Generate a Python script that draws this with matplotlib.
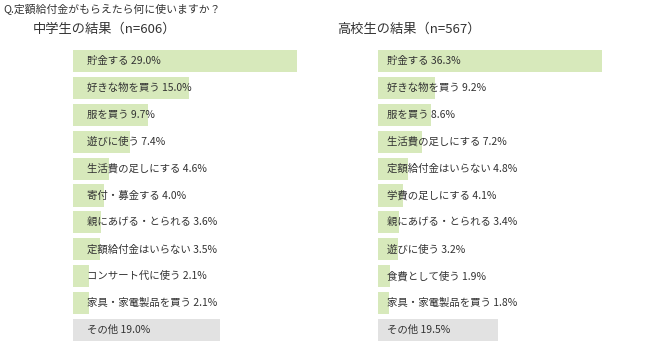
import matplotlib
matplotlib.use("Agg")
import matplotlib.pyplot as plt

plt.rcParams['font.family'] = ['Noto Sans CJK JP', 'DejaVu Sans']

# data
jhs_labels = ["貯金する", "好きな物を買う", "服を買う", "遊びに使う", "生活費の足しにする",
              "寄付・募金する", "親にあげる・とられる", "定額給付金はいらない",
              "コンサート代に使う", "家具・家電製品を買う", "その他"]
jhs_values = [29.0, 15.0, 9.7, 7.4, 4.6, 4.0, 3.6, 3.5, 2.1, 2.1, 19.0]

hs_labels = ["貯金する", "好きな物を買う", "服を買う", "生活費の足しにする",
             "定額給付金はいらない", "学費の足しにする", "親にあげる・とられる",
             "遊びに使う", "食費として使う", "家具・家電製品を買う", "その他"]
hs_values = [36.3, 9.2, 8.6, 7.2, 4.8, 4.1, 3.4, 3.2, 1.9, 1.8, 19.5]

W, H = 650, 349
fig = plt.figure(figsize=(W / 100, H / 100), dpi=100)

GREEN = "#d7e9bb"
GRAY = "#e2e2e2"
TXT = "#333333"


def panel(x0, labels, values, pad, title, tx):
    # axes in pixel coords: bars from x0, 224 px wide for the max value
    top, bottom = 47.5, 343.5
    ax = fig.add_axes([x0 / W, 1 - bottom / H, 224 / W, (bottom - top) / H])
    n = len(values)
    colors = [GREEN] * (n - 1) + [GRAY]
    ax.barh(range(n), values, height=0.82, color=colors, align="center")
    ax.set_xlim(0, max(values))
    ax.set_ylim(n - 0.5, -0.5)
    ax.axis("off")
    for i, (lab, v) in enumerate(zip(labels, values)):
        ax.text(pad * max(values) / 224, i, f"{lab} {v:.1f}%", va="center",
                ha="left", fontsize=7.5, color=TXT, clip_on=False)
    fig.text(tx / W, 1 - 29 / H, title, fontsize=9.5, color=TXT,
             va="center", ha="left")


panel(73, jhs_labels, jhs_values, 14, "中学生の結果（n=606）", 33)
panel(378, hs_labels, hs_values, 9, "高校生の結果（n=567）", 337)

fig.text(3 / W, 1 - 10 / H, "Q.定額給付金がもらえたら何に使いますか？", fontsize=7.8,
         color=TXT, va="center", ha="left")

fig.savefig("out.png", dpi=100)
